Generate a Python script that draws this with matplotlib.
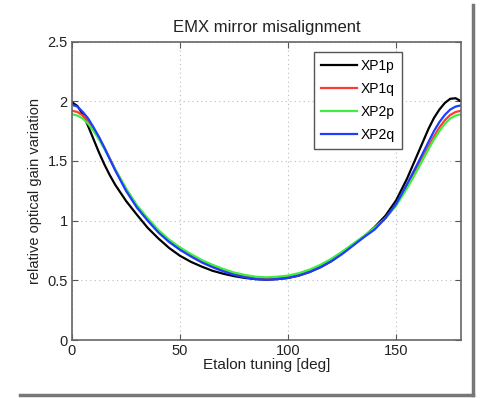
import matplotlib
matplotlib.use("Agg")
import matplotlib.pyplot as plt
from matplotlib.lines import Line2D
from matplotlib.ticker import FormatStrFormatter

plt.rcParams['font.family'] = ['Liberation Sans', 'DejaVu Sans']

# etalon tuning angle [deg] (denser near the ends where the curves bend)
deg = [0, 2.5, 5, 7.5, 10, 12.5, 15, 17.5, 20, 25, 30, 35, 40, 45, 50, 55, 60, 65, 70, 75, 80, 85, 90,
       95, 100, 105, 110, 115, 120, 125, 130, 135, 140, 145, 150, 155,
       160, 162.5, 165, 167.5, 170, 172.5, 175, 177.5, 180]

xp1p = [1.99, 1.96, 1.89, 1.79, 1.68, 1.57, 1.47, 1.38, 1.30, 1.165, 1.05, 0.94, 0.85, 0.77, 0.705, 0.655, 0.615, 0.58, 0.555, 0.535, 0.52, 0.51, 0.505,
        0.51, 0.52, 0.54, 0.57, 0.61, 0.66, 0.725, 0.795, 0.865, 0.945, 1.04, 1.17, 1.35,
        1.56, 1.665, 1.77, 1.86, 1.93, 1.985, 2.02, 2.025, 2.00]
xp1q = [1.92, 1.91, 1.88, 1.835, 1.77, 1.695, 1.61, 1.52, 1.43, 1.26, 1.12, 1.01, 0.91, 0.83, 0.765, 0.71, 0.66, 0.62, 0.585, 0.555, 0.535, 0.52, 0.515,
        0.52, 0.53, 0.55, 0.58, 0.62, 0.67, 0.73, 0.80, 0.865, 0.935, 1.02, 1.135, 1.29,
        1.45, 1.535, 1.62, 1.705, 1.78, 1.84, 1.885, 1.91, 1.92]
xp2p = [1.89, 1.88, 1.855, 1.81, 1.75, 1.68, 1.60, 1.515, 1.43, 1.27, 1.13, 1.02, 0.92, 0.84, 0.775, 0.72, 0.67, 0.63, 0.595, 0.565, 0.545, 0.53, 0.525,
        0.53, 0.54, 0.56, 0.59, 0.63, 0.68, 0.74, 0.805, 0.87, 0.94, 1.02, 1.125, 1.27,
        1.43, 1.515, 1.60, 1.68, 1.75, 1.81, 1.855, 1.88, 1.89]
xp2q = [1.97, 1.955, 1.91, 1.855, 1.78, 1.70, 1.61, 1.515, 1.42, 1.25, 1.11, 1.00, 0.90, 0.82, 0.755, 0.70, 0.65, 0.61, 0.575, 0.545, 0.525, 0.51, 0.505,
        0.51, 0.52, 0.54, 0.57, 0.61, 0.66, 0.72, 0.79, 0.86, 0.925, 1.02, 1.14, 1.305,
        1.48, 1.57, 1.66, 1.75, 1.825, 1.885, 1.93, 1.955, 1.965]

series = [("XP1p", xp1p, "#000000"),
          ("XP1q", xp1q, "#ff3b2f"),
          ("XP2p", xp2p, "#3cf03c"),
          ("XP2q", xp2q, "#1f3cff")]

fig = plt.figure(figsize=(4.8, 3.98), dpi=100)
ax = fig.add_axes([0.15, 0.1457, 0.8104, 0.75])

for name, vals, col in series:
    ax.plot(deg, vals, color=col, lw=1.6, label=name, solid_joinstyle='round')

ax.set_xlim(0, 180)
ax.set_ylim(0, 2.5)
ax.set_xticks([0, 50, 100, 150])
ax.set_yticks([0, 0.5, 1, 1.5, 2, 2.5])
ax.yaxis.set_major_formatter(FormatStrFormatter('%g'))
ax.grid(True, linestyle=(0, (1, 3)), color='#bbbbbb', lw=0.8)
ax.tick_params(direction='in', top=True, right=True, labelsize=10.5, length=4,
               color='#555555', labelcolor='#222222', pad=3)
for s in ax.spines.values():
    s.set_color('#666666')
    s.set_linewidth(1.2)

ax.set_title("EMX mirror misalignment", fontsize=12, color='#222222', pad=7)
ax.set_xlabel("Etalon tuning [deg]", fontsize=11, color='#222222', labelpad=0)
ax.set_ylabel("relative optical gain variation", fontsize=10.5, color='#222222', labelpad=4)

leg = ax.legend(loc='upper right', bbox_to_anchor=(0.848, 0.965), borderaxespad=0,
                fontsize=10, fancybox=False, framealpha=1, edgecolor='#555555',
                handlelength=2.6, handletextpad=0.3, labelspacing=0.65,
                borderpad=0.5)
leg.get_frame().set_linewidth(1.0)

# drop-shadow frame of the original screenshot
fig.add_artist(Line2D([0.042, 0.985], [0.008, 0.008], color='#777777', lw=2.5))
fig.add_artist(Line2D([0.985, 0.985], [0.008, 0.987], color='#777777', lw=2.5))

fig.savefig("out.png", dpi=100)
